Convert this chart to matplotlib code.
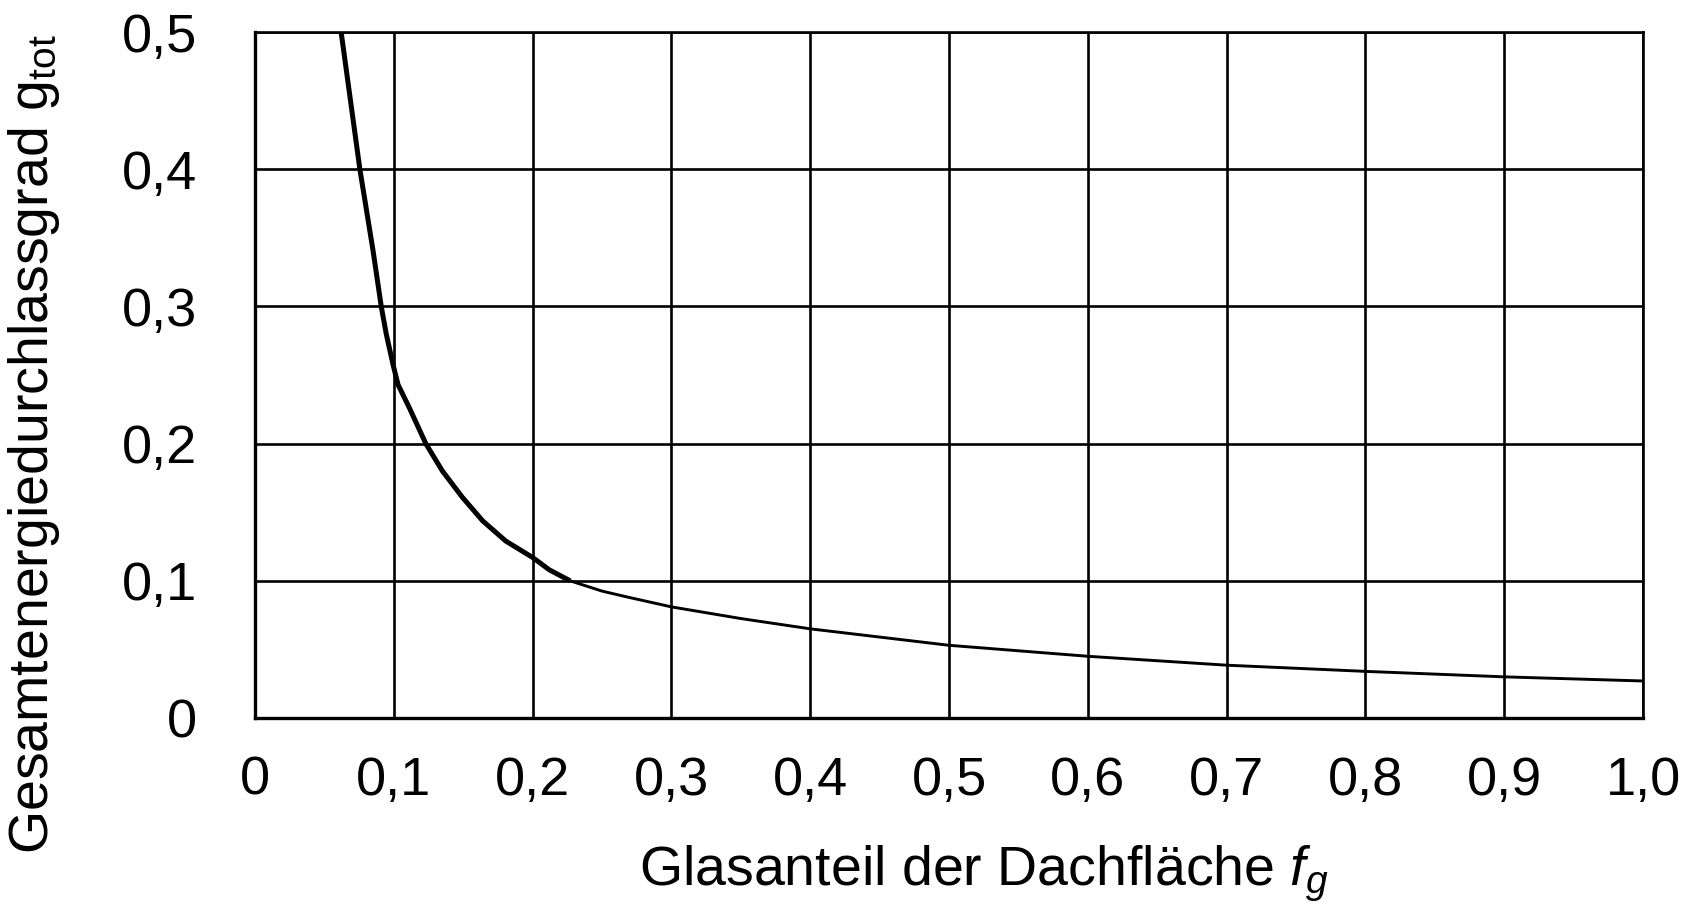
import numpy as np
import matplotlib
matplotlib.use("Agg")
import matplotlib.pyplot as plt

plt.rcParams["font.family"] = ["Liberation Sans", "DejaVu Sans"]
plt.rcParams["mathtext.fontset"] = "custom"
plt.rcParams["mathtext.rm"] = "Liberation Sans"
plt.rcParams["mathtext.it"] = "Liberation Sans:italic"

# steep part of the curve (drawn heavier)
fg_steep = [0.062, 0.0755, 0.085, 0.0909, 0.0945, 0.0993, 0.103, 0.1112, 0.123,
            0.135, 0.1495, 0.164, 0.1806, 0.2, 0.212, 0.227]
g_steep = [0.5, 0.4, 0.3406, 0.3, 0.28, 0.258, 0.243, 0.226, 0.2,
           0.18, 0.1607, 0.1437, 0.129, 0.117, 0.108, 0.1]
# flat tail
fg_tail = [0.227, 0.25, 0.269, 0.3, 0.35, 0.4, 0.5, 0.6, 0.7, 0.8, 0.9, 1.0]
g_tail = [0.1, 0.0925, 0.088, 0.081, 0.0725, 0.065, 0.053, 0.045, 0.0385, 0.034, 0.030, 0.027]

xticks = [0, 0.1, 0.2, 0.3, 0.4, 0.5, 0.6, 0.7, 0.8, 0.9, 1.0]
xlabels = ["0", "0,1", "0,2", "0,3", "0,4", "0,5", "0,6", "0,7", "0,8", "0,9", "1,0"]
yticks = [0, 0.1, 0.2, 0.3, 0.4, 0.5]
ylabels = ["0", "0,1", "0,2", "0,3", "0,4", "0,5"]

fig = plt.figure(figsize=(16.96, 9.17), dpi=100)
ax = fig.add_axes([0.1504, 0.217, 0.8184, 0.748])
ax.set_xlim(0, 1.0)
ax.set_ylim(0, 0.5)

ax.plot(fg_steep, g_steep, color="black", linewidth=3.6, solid_capstyle="butt",
        solid_joinstyle="round", zorder=3)
ax.plot(fg_tail, g_tail, color="black", linewidth=2.1, solid_joinstyle="round", zorder=3)

ax.set_xticks(xticks)
ax.set_xticklabels(xlabels, fontsize=39)
ax.set_yticks(yticks)
ax.set_yticklabels(ylabels, fontsize=39)
ax.tick_params(length=0, pad=0)
ax.tick_params(axis="x", pad=27)
ax.tick_params(axis="y", pad=42)

ax.grid(color="black", linewidth=1.9)
for s in ax.spines.values():
    s.set_linewidth(1.9)
ax.spines["bottom"].set_linewidth(2.4)
ax.spines["left"].set_linewidth(2.4)

ax.set_xlabel(r"Glasanteil der Dachfläche $f_g$", fontsize=40)
ax.xaxis.set_label_coords(0.525, -0.183)
ax.set_ylabel(r"Gesamtenergiedurchlassgrad g$_{\mathrm{tot}}$", fontsize=40)
ax.yaxis.set_label_coords(-0.139, 0.40)

fig.savefig("out.png", dpi=100, facecolor="white")
